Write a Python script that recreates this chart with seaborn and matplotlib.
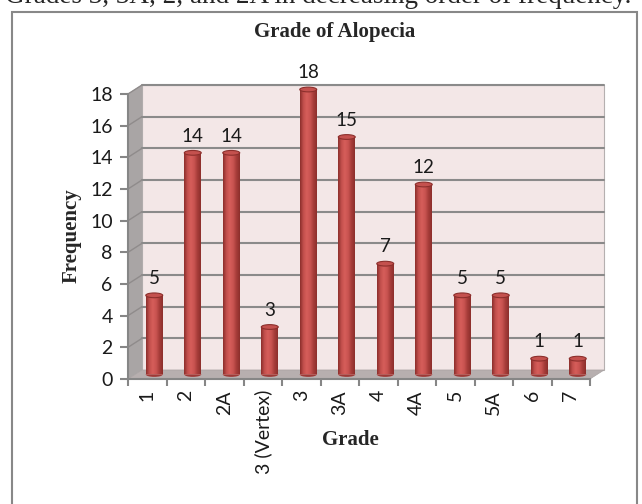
import matplotlib
matplotlib.use('Agg')
import matplotlib.pyplot as plt
import seaborn as sns
import numpy as np
import pandas as pd
from matplotlib.patches import Polygon, Rectangle, Ellipse
from matplotlib.colors import LinearSegmentedColormap

grades = ['1', '2', '2A', '3 (Vertex)', '3', '3A', '4', '4A', '5', '5A', '6', '7']
frequency = [5, 14, 14, 3, 18, 15, 7, 12, 5, 5, 1, 1]
yticks = [0, 2, 4, 6, 8, 10, 12, 14, 16, 18]

df = pd.DataFrame({'Grade': grades, 'Frequency': frequency})

sns.set_style('white')
fig = plt.figure(figsize=(6.42, 5.04), dpi=100)
# front frame of the 3d box (pixels in the 642x504 image)
ax = fig.add_axes([128/642, 125/504, 462/642, 285/504])

# depth of the fake 3d box in data units (14 px right, 9 px up)
DX = 14 / (462/12)
DY = 9 / (285/18)

sns.barplot(data=df, x='Grade', y='Frequency', order=grades, color='#C0504D',
            width=0.44, ax=ax, zorder=3, linewidth=0)
ax.set_xlim(-0.5, 11.5)
ax.set_ylim(0, 18)
ax.set_facecolor('none')

# back wall, side wall, floor
ax.add_patch(Rectangle((-0.5+DX, DY), 12, 18, facecolor='#F3E7E7', edgecolor='#B5B0B0',
                       lw=0.8, clip_on=False, zorder=0))
ax.add_patch(Polygon([(-0.5, 0), (-0.5, 18), (-0.5+DX, 18+DY), (-0.5+DX, DY)],
                     facecolor='#A9A5A5', edgecolor='#A9A5A5', lw=0.5, clip_on=False, zorder=0.5))
ax.add_patch(Polygon([(-0.5, 0), (11.5, 0), (11.5+DX, DY), (-0.5+DX, DY)],
                     facecolor='#B7AFAF', edgecolor='#A9A3A3', lw=0.5, clip_on=False, zorder=0.5))
for y in yticks[1:]:
    ax.plot([-0.5+DX, 11.5+DX], [y+DY, y+DY], color='#8A8A8A', lw=1.5, clip_on=False, zorder=1)
    ax.plot([-0.5, -0.5+DX], [y, y+DY], color='#8F8B8B', lw=1.0, clip_on=False, zorder=1)

# cylinder look for the bars
cmap = LinearSegmentedColormap.from_list('cyl', ['#8C2F2C', '#C24F4C', '#D65E5A', '#C95451', '#A63C39', '#8C2F2C'])
grad = np.linspace(0, 1, 64).reshape(1, -1)
for p, v in zip(ax.containers[0], frequency):
    p.set_x(p.get_x() + DX/2)
    p.set_y(DY/2)
    p.set_clip_on(False)
    x0, w = p.get_x(), p.get_width()
    xc = x0 + w/2
    top = DY/2 + v
    ax.add_patch(Ellipse((xc, DY/2), w, 0.3, facecolor='#9E3936', edgecolor='none',
                         zorder=2.5, clip_on=False))
    im = ax.imshow(grad, cmap=cmap, extent=[x0, x0+w, DY/2, top], aspect='auto',
                   zorder=3.5, interpolation='bilinear')
    im.set_clip_path(p)
    ax.add_patch(Ellipse((xc, top), w, 0.3, facecolor='#C4514E', edgecolor='#8C2F2C',
                         lw=0.8, zorder=4, clip_on=False))
    ax.annotate(str(v), (xc, top), xytext=(0, 6), textcoords='offset points', ha='center',
                va='bottom', fontsize=13.5, family='Lato', color='#1A1A1A',
                annotation_clip=False)

ax.set_xlim(-0.5, 11.5)
ax.set_ylim(0, 18)

# axes, ticks
for s in ['top', 'right']:
    ax.spines[s].set_visible(False)
for s in ['left', 'bottom']:
    ax.spines[s].set_color('#868686')
    ax.spines[s].set_linewidth(1.5)
    ax.spines[s].set_zorder(5)
ax.set_yticks(yticks)
ax.set_yticklabels([str(t) for t in yticks], family='Lato', fontsize=14, color='#1A1A1A')
ax.set_xticks(np.arange(-0.5, 12, 1))
ax.set_xticklabels([''] * 13)
ax.set_xticks(range(12), minor=True)
ax.set_xticklabels(grades, minor=True, rotation=90, family='Lato', fontsize=14, color='#1A1A1A')
ax.tick_params(axis='y', direction='out', length=6, width=1.5, color='#868686', pad=5, left=True)
ax.tick_params(axis='x', which='major', direction='out', length=5, width=1.5, color='#868686', bottom=True)
ax.tick_params(axis='x', which='minor', length=0, pad=8)
ax.set_xlabel('')
ax.set_ylabel('')

fig.text(72/642, 1 - 236/504, 'Frequency', rotation=90, ha='center', va='center',
         family='Liberation Serif', fontweight='bold', fontsize=15)
fig.text(350/642, 1 - 440/504, 'Grade', ha='center', va='center',
         family='Liberation Serif', fontweight='bold', fontsize=15)
fig.text(335/642, 1 - 32/504, 'Grade of Alopecia', ha='center', va='center',
         family='Liberation Serif', fontweight='bold', fontsize=15)
fig.text(5/642, 1 - 3/504, 'Grades 3, 3A, 2, and 2A in decreasing order of frequency.',
         ha='left', va='baseline', family='Liberation Serif', fontsize=19.5)

fig.patches.append(Rectangle((12/642, -0.1), 625/642, 492/504 + 0.1, transform=fig.transFigure,
                             fill=False, edgecolor='#888888', lw=1.5))

fig.savefig('out.png', dpi=100)
